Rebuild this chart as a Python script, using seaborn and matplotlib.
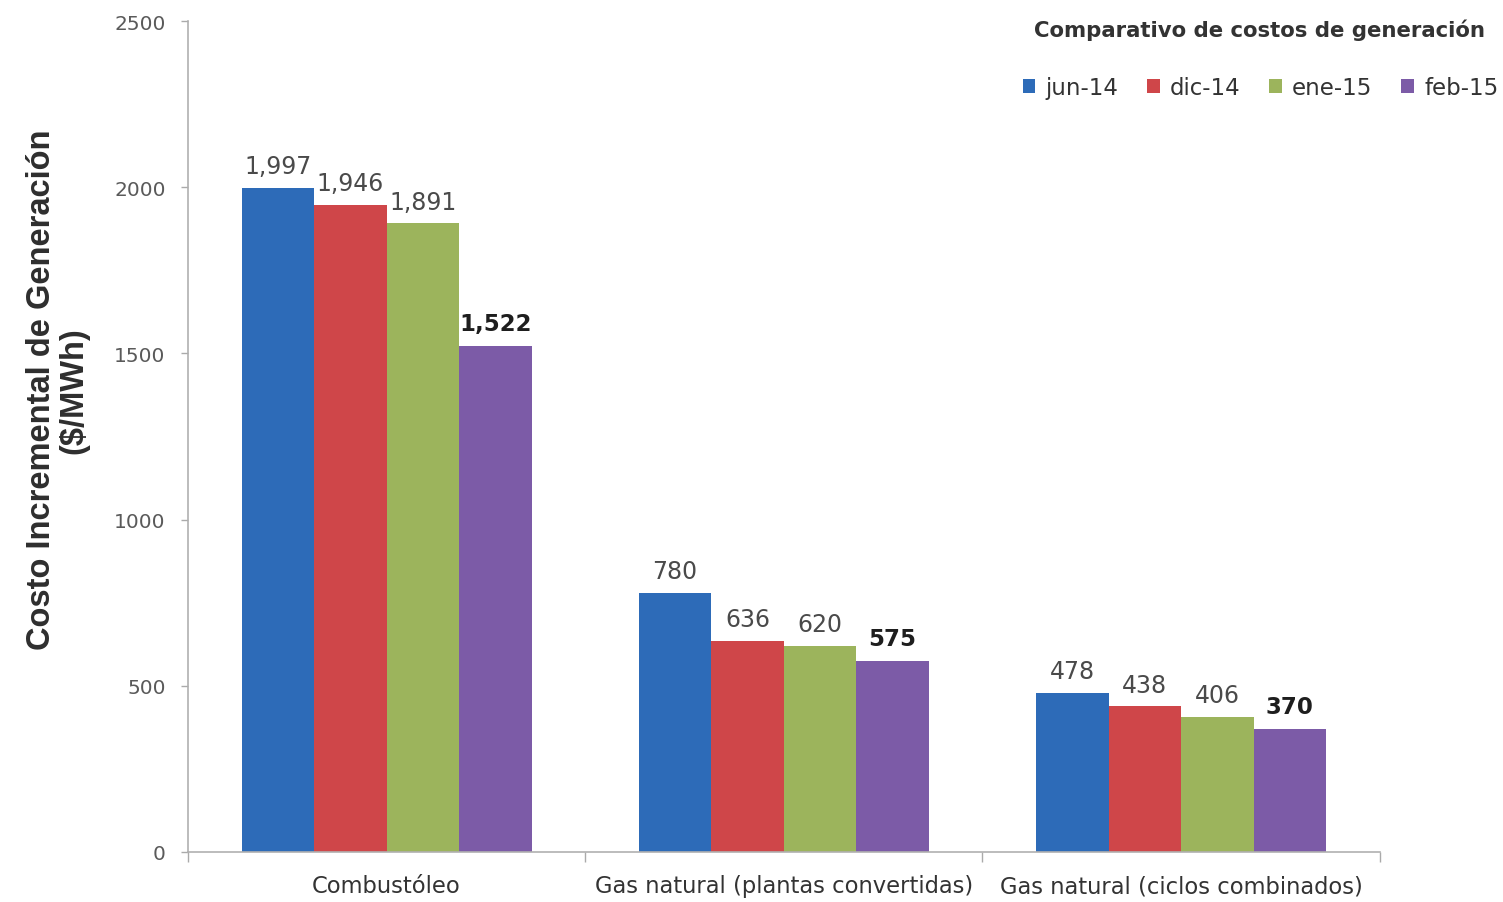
import matplotlib
matplotlib.use("Agg")
import matplotlib.pyplot as plt
import seaborn as sns
import pandas as pd

# Incremental generation cost by fuel ($/MWh)
categories = ["Combustóleo", "Gas natural (plantas convertidas)", "Gas natural (ciclos combinados)"]
periods = ["jun-14", "dic-14", "ene-15", "feb-15"]
jun_14 = [1997, 780, 478]
dic_14 = [1946, 636, 438]
ene_15 = [1891, 620, 406]
feb_15 = [1522, 575, 370]
yticks = [0, 500, 1000, 1500, 2000, 2500]

colors = ["#2d6bb8", "#cf4649", "#9cb45c", "#7c5ba7"]

series = [jun_14, dic_14, ene_15, feb_15]
df = pd.DataFrame({
    "Tecnología": [c for s in series for c in categories],
    "Periodo": [p for p, s in zip(periods, series) for _ in s],
    "Costo": [v for s in series for v in s],
})

sns.set_theme(style="white")
plt.rcParams["font.family"] = ["DejaVu Sans"]

fig = plt.figure(figsize=(15.03, 9.03), dpi=100)
ax = fig.add_axes([0.125, 0.0554, 0.793, 0.9202])

sns.barplot(data=df, x="Tecnología", y="Costo", hue="Periodo",
            order=categories, hue_order=periods, palette=colors,
            width=0.73, gap=0, saturation=1, linewidth=0, ax=ax)

# value labels; latest period highlighted in bold
for i, cont in enumerate(ax.containers):
    last = i == len(ax.containers) - 1
    ax.bar_label(cont, labels=[f"{v:,.0f}" for v in cont.datavalues],
                 padding=8 if last else 7,
                 fontsize=16.5 if last else 17,
                 fontweight="bold" if last else "normal",
                 color="#1e1e1e" if last else "#4a4a4a")

ax.set_ylim(0, 2500)
ax.set_xlim(-0.5, 2.5)
ax.set_yticks(yticks)
ax.set_yticklabels([str(t) for t in yticks], fontsize=14.5, color="#5a5a5a")
ax.tick_params(axis="y", which="major", left=True, length=5, color="#aaaaaa", width=1, pad=11)

# category separators as minor ticks on the x axis
ax.set_xticks([-0.5, 0.5, 1.5, 2.5], minor=True)
ax.tick_params(axis="x", which="minor", bottom=True, length=7, color="#aaaaaa", width=1)
ax.tick_params(axis="x", which="major", bottom=False, length=0, pad=16)
ax.set_xticklabels(categories, fontsize=16.3, color="#333333")

for side in ["top", "right"]:
    ax.spines[side].set_visible(False)
for side in ["left", "bottom"]:
    ax.spines[side].set_color("#b0b0b0")
    ax.spines[side].set_linewidth(1.2)

ax.set_xlabel("")
ax.set_ylabel("Costo Incremental de Generación\n($/MWh)", fontsize=23.5,
              family=["Liberation Sans", "DejaVu Sans"], fontweight="bold",
              color="#2e2e2e", linespacing=1.05)
ax.yaxis.set_label_coords(-0.083, 0.557)

# legend title drawn separately, entries in one row below it
fig.text(0.838, 0.966, "Comparativo de costos de generación", ha="center", va="center",
         fontsize=15.3, fontweight="bold", color="#333333")
handles, labels = ax.get_legend_handles_labels()
ax.legend(handles, labels, ncol=4, loc="center right", bbox_to_anchor=(1.003, 0.902),
          bbox_transform=fig.transFigure, frameon=False,
          fontsize=16.5, handlelength=0.55, handleheight=0.55, handletextpad=0.45,
          columnspacing=1.25, labelcolor="#333333", borderaxespad=0)

fig.savefig("out.png", dpi=100, facecolor="white")
